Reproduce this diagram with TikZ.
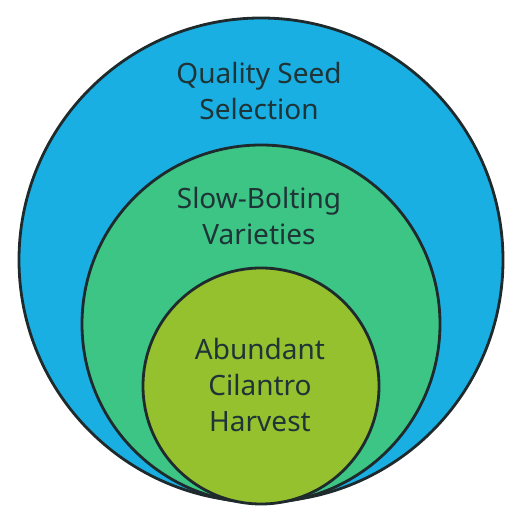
\documentclass[tikz,border=0pt]{standalone}
\usepackage{fontspec}
\setmainfont{Noto Sans}
\definecolor{cblue}{HTML}{19AFE2}
\definecolor{cgreen}{HTML}{3CC585}
\definecolor{clime}{HTML}{95C12F}
\definecolor{cline}{HTML}{1F2A2C}
\definecolor{ctext}{HTML}{1F3436}
\begin{document}
\begin{tikzpicture}[x=1pt,y=1pt,
  ring/.style={circle, draw=cline, line width=2.8pt, inner sep=0pt},
  lbl/.style={anchor=base, text=ctext, font=\fontsize{28}{36}\selectfont, inner sep=0pt}]
\useasboundingbox (0,0) rectangle (525,526);
\node[ring, fill=cblue, minimum size=484pt] (outer) at (261,266) {};
\node[ring, fill=cgreen, minimum size=358pt] (middle) at (261,202) {};
\node[ring, fill=clime, minimum size=236pt] (inner) at (261,140) {};
\node[lbl] (q1) at (259,442) {Quality Seed};
\node[lbl] (q2) at (259,406) {Selection};
\node[lbl] (s1) at (259,317) {Slow-Bolting};
\node[lbl] (s2) at (259,281) {Varieties};
\node[lbl] (a1) at (260,166) {Abundant};
\node[lbl] (a2) at (260,130) {Cilantro};
\node[lbl] (a3) at (260,94) {Harvest};
\end{tikzpicture}
\end{document}
